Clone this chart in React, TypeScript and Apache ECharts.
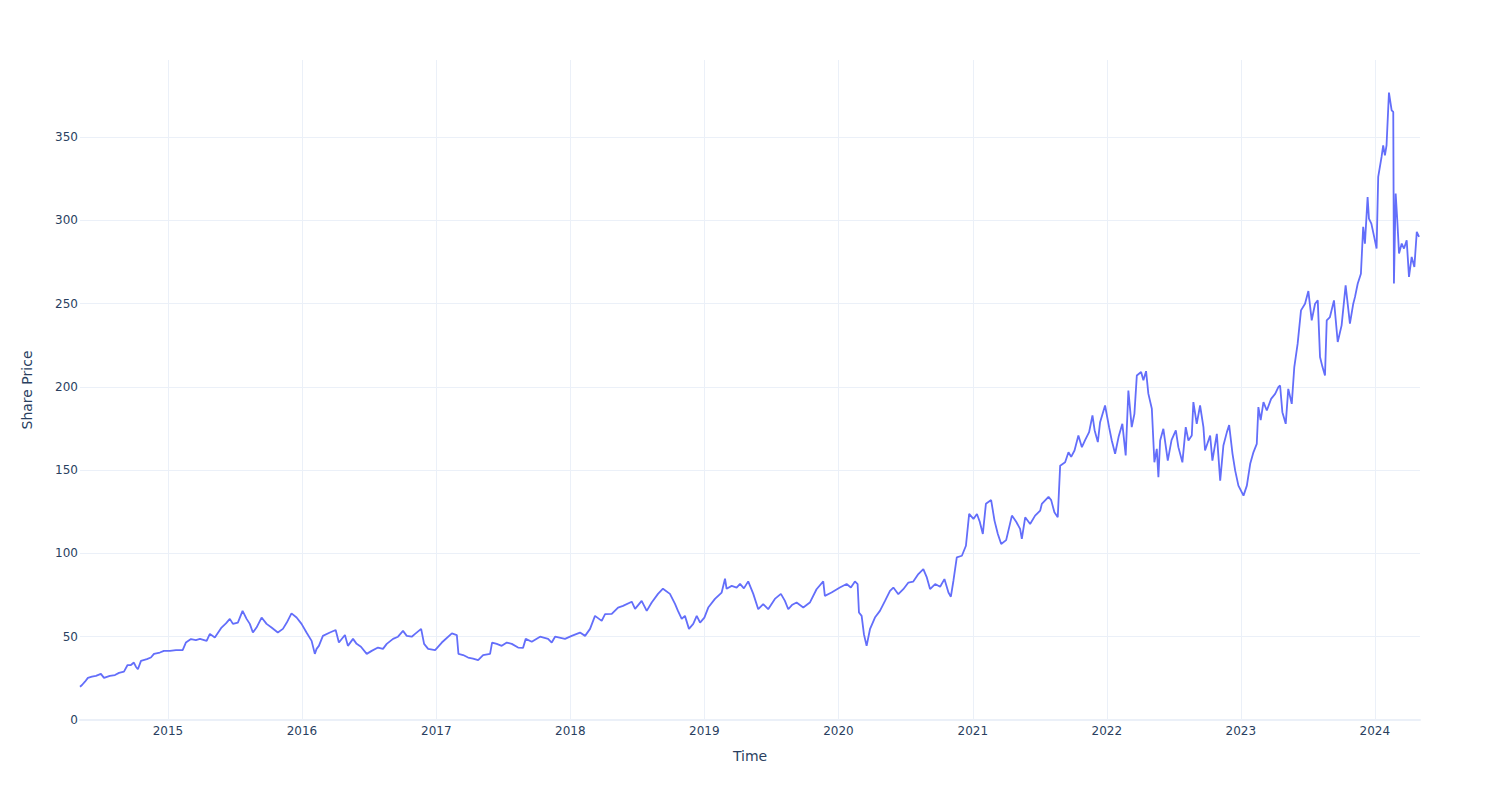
import React, { useEffect, useRef } from "react";
import * as echarts from "echarts";

// Time expressed as decimal years, share price values
const yearFrac = [
  2014.344, 2014.359, 2014.381, 2014.403, 2014.433, 2014.463, 2014.5, 2014.523, 2014.567, 2014.605,
  2014.635, 2014.672, 2014.699, 2014.724, 2014.746, 2014.761, 2014.776, 2014.799, 2014.843, 2014.873,
  2014.896, 2014.94, 2014.97, 2015.015, 2015.06, 2015.11, 2015.134, 2015.172, 2015.209, 2015.239,
  2015.289, 2015.313, 2015.35, 2015.4, 2015.433, 2015.462, 2015.485, 2015.522, 2015.557, 2015.587,
  2015.611, 2015.634, 2015.661, 2015.699, 2015.736, 2015.773, 2015.82, 2015.858, 2015.887, 2015.922,
  2015.96, 2015.997, 2016.034, 2016.072, 2016.096, 2016.109, 2016.126, 2016.156, 2016.208, 2016.251,
  2016.275, 2016.32, 2016.342, 2016.38, 2016.407, 2016.439, 2016.482, 2016.519, 2016.566, 2016.603,
  2016.631, 2016.678, 2016.715, 2016.752, 2016.78, 2016.817, 2016.842, 2016.887, 2016.909, 2016.939,
  2016.991, 2017.041, 2017.116, 2017.153, 2017.165, 2017.2, 2017.237, 2017.274, 2017.312, 2017.349,
  2017.401, 2017.416, 2017.451, 2017.488, 2017.526, 2017.563, 2017.61, 2017.647, 2017.667, 2017.712,
  2017.774, 2017.834, 2017.861, 2017.886, 2017.96, 2018.01, 2018.072, 2018.11, 2018.147, 2018.184,
  2018.234, 2018.259, 2018.309, 2018.356, 2018.393, 2018.458, 2018.483, 2018.532, 2018.57, 2018.607,
  2018.654, 2018.691, 2018.743, 2018.781, 2018.803, 2018.831, 2018.855, 2018.885, 2018.917, 2018.943,
  2018.968, 2019.0, 2019.029, 2019.079, 2019.129, 2019.154, 2019.166, 2019.204, 2019.241, 2019.266,
  2019.295, 2019.327, 2019.365, 2019.402, 2019.439, 2019.476, 2019.526, 2019.571, 2019.601, 2019.626,
  2019.653, 2019.688, 2019.738, 2019.787, 2019.837, 2019.887, 2019.899, 2019.949, 2020.011, 2020.061,
  2020.093, 2020.123, 2020.143, 2020.153, 2020.173, 2020.19, 2020.21, 2020.235, 2020.272, 2020.309,
  2020.347, 2020.384, 2020.409, 2020.446, 2020.483, 2020.521, 2020.556, 2020.595, 2020.632, 2020.658,
  2020.682, 2020.72, 2020.757, 2020.789, 2020.819, 2020.837, 2020.856, 2020.881, 2020.919, 2020.949,
  2020.973, 2021.005, 2021.031, 2021.052, 2021.075, 2021.098, 2021.137, 2021.162, 2021.187, 2021.212,
  2021.249, 2021.292, 2021.324, 2021.353, 2021.366, 2021.391, 2021.428, 2021.465, 2021.503, 2021.515,
  2021.565, 2021.585, 2021.609, 2021.634, 2021.652, 2021.689, 2021.714, 2021.734, 2021.759, 2021.788,
  2021.814, 2021.838, 2021.868, 2021.893, 2021.909, 2021.933, 2021.95, 2021.987, 2022.017, 2022.037,
  2022.062, 2022.088, 2022.116, 2022.141, 2022.161, 2022.186, 2022.206, 2022.224, 2022.256, 2022.273,
  2022.293, 2022.31, 2022.336, 2022.355, 2022.373, 2022.385, 2022.398, 2022.422, 2022.455, 2022.483,
  2022.515, 2022.534, 2022.564, 2022.589, 2022.609, 2022.634, 2022.646, 2022.671, 2022.696, 2022.721,
  2022.733, 2022.771, 2022.788, 2022.821, 2022.846, 2022.87, 2022.896, 2022.913, 2022.938, 2022.958,
  2022.982, 2023.02, 2023.045, 2023.07, 2023.094, 2023.119, 2023.131, 2023.148, 2023.169, 2023.194,
  2023.226, 2023.256, 2023.28, 2023.293, 2023.31, 2023.335, 2023.354, 2023.38, 2023.399, 2023.424,
  2023.449, 2023.479, 2023.504, 2023.529, 2023.554, 2023.574, 2023.591, 2023.609, 2023.628, 2023.641,
  2023.665, 2023.695, 2023.723, 2023.752, 2023.782, 2023.814, 2023.839, 2023.852, 2023.872, 2023.896,
  2023.913, 2023.926, 2023.946, 2023.956, 2023.974, 2023.995, 2024.013, 2024.025, 2024.05, 2024.062,
  2024.075, 2024.087, 2024.105, 2024.125, 2024.137, 2024.142, 2024.155, 2024.167, 2024.18, 2024.2,
  2024.217, 2024.237, 2024.254, 2024.274, 2024.294, 2024.312, 2024.329,
];

const price = [
  20, 21, 23, 25.3, 26, 26.5, 27.7, 25.3, 26.5, 27,
  28.3, 29, 33, 33, 34.5, 32, 30.5, 35.5, 36.5, 37.5,
  39.7, 40.5, 41.5, 41.5, 42, 42, 46.5, 48.6, 48, 48.7,
  47.5, 51.7, 49.5, 55.5, 58, 60.7, 57.7, 58.5, 65.5, 60.7,
  57.7, 52.5, 55.5, 61.5, 57.7, 55.5, 52.5, 54.7, 58.5, 64,
  61.5, 57.7, 52.5, 47.5, 39.7, 42.7, 44.5, 50.5, 52.5, 54,
  46.5, 51, 44.5, 48.7, 45.7, 44, 39.7, 41.5, 43.5, 42.7,
  45.7, 48.7, 50, 53.5, 50.5, 50, 51.7, 54.7, 45.7, 42.7,
  42, 46.5, 52, 51, 39.7, 39, 37.5, 36.9, 36, 39,
  39.7, 46.5, 45.7, 44.5, 46.5, 45.7, 43.5, 43.3, 48.7, 47,
  50, 48.7, 46.5, 50, 48.7, 50.5, 52.5, 50.5, 54.7, 62.5,
  59.5, 63.5, 63.7, 67.5, 68.5, 71, 66.7, 71.5, 65.5, 70.5,
  75.7, 78.8, 75.7, 69.7, 65.5, 60.7, 62.5, 54.7, 57.7, 62.5,
  58.5, 61.5, 67.5, 72.7, 76.5, 84.8, 78.8, 80.5, 79.5, 81.7,
  79, 83.2, 75.7, 66.5, 69.5, 66.5, 72.7, 75.7, 71.5, 66.5,
  69, 70.5, 67.5, 70.5, 78.5, 83.2, 74.5, 76.5, 79.5, 81.6,
  79.5, 83.2, 81.6, 64.5, 62.5, 51.5, 44.5, 54.5, 61.5, 65.5,
  71.5, 77.5, 79.5, 75.5, 78.5, 82.5, 83, 87.6, 90.6, 85.6,
  78.6, 81.6, 80, 84.6, 76.5, 74, 83.6, 97.6, 98.6, 104.6,
  123.7, 120.7, 123.7, 119, 111.7, 129.8, 132, 119.7, 111.7, 105.7,
  108, 122.7, 119, 114.7, 108.7, 121.7, 117.7, 122.7, 125.7, 129.7,
  134, 132, 124.7, 121.7, 152.7, 154.7, 160.7, 158, 161.8, 170.8,
  163.8, 168, 172.8, 182.8, 174, 166.8, 178.8, 188.8, 175.8, 167.8,
  159.8, 170, 177.8, 158.8, 197.8, 175.8, 183.8, 206.8, 208.9, 203.9,
  209.4, 195.9, 186.8, 154.7, 162.8, 145.7, 167.8, 174.8, 155.7, 168,
  173.8, 163.8, 154.7, 175.8, 167.8, 170.8, 190.8, 177.8, 188.8, 175.8,
  161.8, 170.8, 155.7, 171.8, 143.7, 164.8, 172.8, 177, 159.8, 149.7,
  140.7, 134.7, 140.7, 153.8, 160.7, 165.8, 187.8, 180, 190.8, 185.8,
  192.8, 195.8, 199.8, 200.8, 184.8, 177.8, 198.8, 189.8, 211.9, 225.9,
  245.9, 249.9, 257.5, 239.9, 249.9, 251.9, 217.9, 212, 206.8, 239.9,
  241.9, 251.9, 226.9, 236.9, 260.9, 237.9, 249.9, 254, 261.9, 267.9,
  296, 286, 314, 301, 298, 290, 283, 326, 338, 345,
  339, 345, 376.6, 366, 365, 262, 316, 300, 280, 286,
  283, 288, 266, 278, 272, 293, 290,
];

const xStartYear = 2014.344;
const xEndYear = 2024.336;
const yMax = 396.2;

function toTs(y: number): number {
  const yr = Math.floor(y);
  const start = Date.UTC(yr, 0, 1);
  const end = Date.UTC(yr + 1, 0, 1);
  return start + (y - yr) * (end - start);
}

export default function App() {
  const ref = useRef<HTMLDivElement>(null);
  useEffect(() => {
    if (!ref.current) return;
    const chart = echarts.init(ref.current, undefined, { renderer: "svg" });
    const data = yearFrac.map((y, i) => [toTs(y), price[i]]);
    const font = "DejaVu Sans";
    const textColor = "#2a3f5f";
    const gridColor = "#ebf0f8";
    chart.setOption({
      animation: false,
      useUTC: true,
      backgroundColor: "#ffffff",
      grid: { left: 80, right: 80, top: 60, bottom: 80, containLabel: false },
      xAxis: {
        type: "time",
        min: toTs(xStartYear),
        max: toTs(xEndYear),
        splitNumber: 10,
        name: "Time",
        nameLocation: "middle",
        nameGap: 29,
        nameTextStyle: { fontFamily: font, fontSize: 14, color: textColor },
        axisLine: { show: true, lineStyle: { color: gridColor, width: 2 } },
        axisTick: { show: false },
        axisLabel: {
          fontFamily: font,
          fontSize: 12,
          color: textColor,
          margin: 5,
          formatter: (v: number) => String(new Date(v).getUTCFullYear()),
        },
        splitLine: {
          show: true,
          showMinLine: false,
          showMaxLine: false,
          lineStyle: { color: gridColor, width: 1 },
        },
      },
      yAxis: {
        type: "value",
        min: 0,
        max: yMax,
        interval: 50,
        name: "Share Price",
        nameLocation: "middle",
        nameGap: 46,
        nameTextStyle: { fontFamily: font, fontSize: 14, color: textColor },
        axisLine: { show: false },
        axisTick: { show: false },
        axisLabel: {
          fontFamily: font,
          fontSize: 12,
          color: textColor,
          margin: 2,
          showMaxLabel: false,
        },
        splitLine: {
          show: true,
          showMaxLine: false,
          lineStyle: { color: gridColor, width: 1 },
        },
      },
      series: [
        {
          type: "line",
          data,
          showSymbol: false,
          symbol: "none",
          lineStyle: { color: "#636efa", width: 1.8 },
          itemStyle: { color: "#636efa" },
        },
      ],
    });
    return () => chart.dispose();
  }, []);
  return (
    <div
      ref={ref}
      style={{ position: "fixed", left: 0, top: 0, width: 1500, height: 800, background: "#fff" }}
    />
  );
}
